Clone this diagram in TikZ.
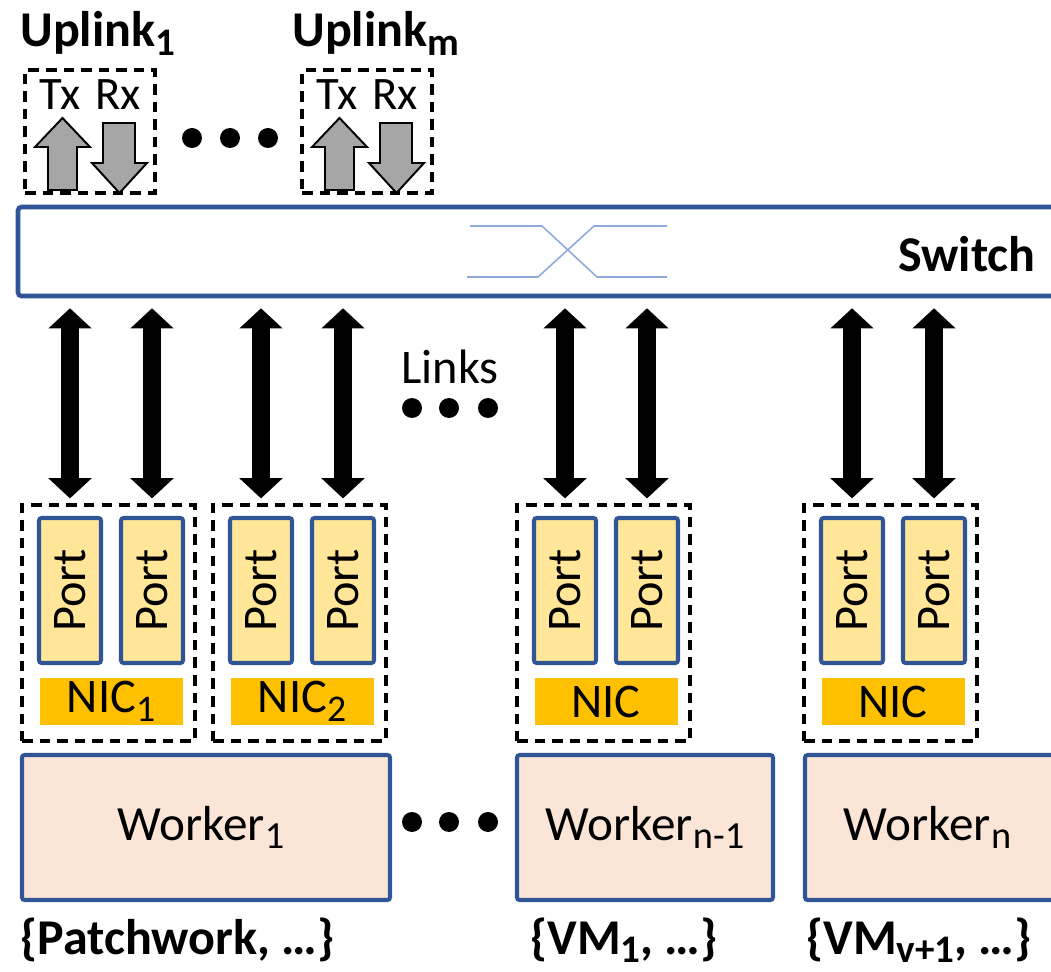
\documentclass[tikz,border=0pt]{standalone}
\usepackage{fontspec}
\setmainfont{Carlito}
\usetikzlibrary{arrows.meta}

\definecolor{swblue}{RGB}{47,85,151}
\definecolor{xblue}{RGB}{143,170,220}
\definecolor{portfill}{RGB}{255,230,153}
\definecolor{nicfill}{RGB}{255,192,0}
\definecolor{workfill}{RGB}{251,229,214}
\definecolor{arrgray}{RGB}{166,166,166}

\newlength\pxl
\setlength\pxl{0.02cm}
% lowered subscript, a bit larger than \textsubscript
\newcommand{\lsub}[1]{\raisebox{-5pt}{\scalebox{0.78}{#1}}}

\tikzset{
  lbl/.style={inner sep=0pt, font=\fontsize{27.5}{30}\selectfont},
  boldlbl/.style={inner sep=0pt, font=\fontsize{28.5}{32}\selectfont\bfseries},
  grpbox/.style={draw, dash pattern=on 6pt off 4pt, line width=1.8pt, inner sep=0pt},
  switchbox/.style={draw=swblue, line width=2.6pt, fill=white, rounded corners=2pt, inner sep=0pt},
  portbox/.style={draw=swblue, line width=2.3pt, fill=portfill, rounded corners=1.5pt, inner sep=0pt,
    rotate=90, minimum width=145\pxl, minimum height=62\pxl, font=\fontsize{27.5}{30}\selectfont},
  nicbar/.style={fill=nicfill, inner sep=0pt, minimum width=143\pxl, minimum height=47\pxl,
    font=\fontsize{27.5}{30}\selectfont},
  workbox/.style={draw=swblue, line width=2.3pt, fill=workfill, rounded corners=1.5pt, inner sep=0pt,
    minimum height=145\pxl, font=\fontsize{28}{30}\selectfont},
  link/.style={{Triangle[width=24pt,length=11.5pt]}-{Triangle[width=24pt,length=11.5pt]},
    line width=10pt, shorten <=0.2cm, shorten >=0.1cm},
  blockarr/.style={draw, line width=1.1pt, fill=arrgray, line join=miter},
  xline/.style={draw=xblue, line width=0.9pt}
}

\begin{document}
\begin{tikzpicture}[x=0.02cm, y=-0.02cm]
  \useasboundingbox (0,0) rectangle (1051,972);
  \clip (0,0) rectangle (1051,972);

  % uplinks
  \node[boldlbl, anchor=base west] (uplink1) at (20,47) {Uplink\lsub{1}};
  \node[boldlbl, anchor=base west] (uplinkm) at (292,47) {Uplink\lsub{m}};
  \foreach \u/\ux in {1/25, 2/302} {
    \node[grpbox, minimum width=130\pxl, minimum height=123\pxl] (upbox\u) at (\ux+65,131.5) {};
    \node[lbl, font=\fontsize{26.5}{30}\selectfont, anchor=base] (tx\u) at (\ux+35,110) {Tx};
    \node[lbl, font=\fontsize{26.5}{30}\selectfont, anchor=base] (rx\u) at (\ux+93,110) {Rx};
    \draw[blockarr] (\ux+23,190) -- (\ux+23,147) -- (\ux+10,147) -- (\ux+37.5,118)
      -- (\ux+65,147) -- (\ux+52,147) -- (\ux+52,190) -- cycle;
    \draw[blockarr] (\ux+78,123) -- (\ux+78,163) -- (\ux+67,163) -- (\ux+94.5,193)
      -- (\ux+122,163) -- (\ux+110,163) -- (\ux+110,123) -- cycle;
  }
  \foreach \dx in {192,230,268}
    \fill (\dx,138) circle[radius=0.2cm];

  % switch
  \node[switchbox, minimum width=1062\pxl, minimum height=89\pxl] (sw) at (549,251.5) {};
  \node[boldlbl, anchor=base east] (swlbl) at (1036,272) {Switch};
  \draw[xline] (470,226) -- (542,226) -- (597,277) -- (667,277);
  \draw[xline] (467,277) -- (538,277) -- (594,226) -- (667,226);

  % NICs with two ports each
  \foreach \g/\gx/\nic in {1/22/{NIC\lsub{1}}, 2/213/{NIC\lsub{2}}, 3/517/NIC, 4/804/NIC} {
    \node[grpbox, minimum width=173\pxl, minimum height=236\pxl] (nic\g) at (\gx+86.5,623) {};
    \node[portbox] (port\g a) at (\gx+48,590.5) {Port};
    \node[portbox] (port\g b) at (\gx+130,590.5) {Port};
    \node[nicbar] (bar\g) at (\gx+89,701.5) {\nic};
    \draw[link] (sw.south -| port\g a) -- (nic\g.north -| port\g a);
    \draw[link] (sw.south -| port\g b) -- (nic\g.north -| port\g b);
  }

  \node[lbl, anchor=base] (links) at (450,384) {Links};
  \foreach \dx in {412,449,488}
    \fill (\dx,408) circle[radius=0.2cm];

  % workers
  \node[workbox, minimum width=368\pxl] (work1) at (206,827.5) {\hspace*{-10\pxl}Worker\lsub{1}};
  \node[workbox, minimum width=256\pxl] (work2) at (645,827.5) {Worker\lsub{n-1}};
  \node[workbox, minimum width=265\pxl] (work3) at (937.5,827.5) {\hspace*{-20\pxl}Worker\lsub{n}};
  \foreach \dx in {412,449,488}
    \fill (\dx,822) circle[radius=0.2cm];

  \node[boldlbl, anchor=base west] (grp1) at (20,954) {\{Patchwork, …\}};
  \node[boldlbl, anchor=base west] (grp2) at (530,954) {\{VM\lsub{1}, …\}};
  \node[boldlbl, anchor=base west] (grp3) at (806,954) {\{VM\lsub{v+1}, …\}};
\end{tikzpicture}
\end{document}
